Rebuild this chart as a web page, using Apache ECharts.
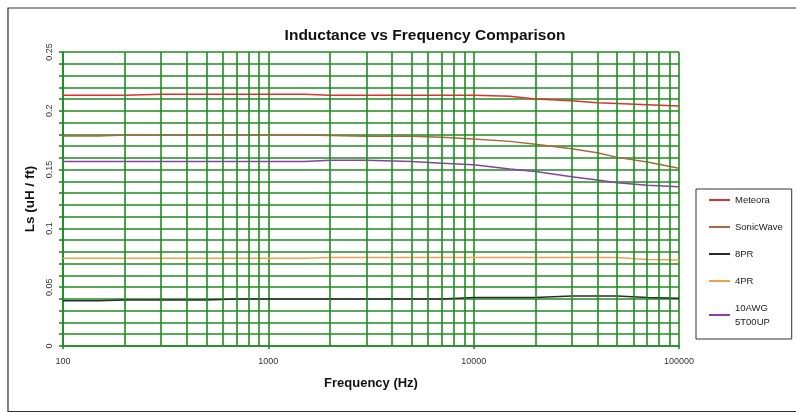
<!DOCTYPE html>
<html>
<head>
<meta charset="utf-8">
<title>Inductance vs Frequency Comparison</title>
<script src="https://cdn.jsdelivr.net/npm/echarts@6/dist/echarts.min.js"></script>
<style>
  html, body { margin: 0; padding: 0; background: #fff; }
  #chart { width: 796px; height: 413px; }
</style>
</head>
<body>
<div id="chart"></div>
<script>
// frequency points (Hz)
const freqs = [100, 150, 200, 300, 500, 700, 1000, 1500, 2000, 3000, 5000, 7000, 10000, 15000, 20000, 30000, 40000, 50000, 70000, 100000]

// Ls (uH / ft)
const meteora = [0.2132, 0.2132, 0.2132, 0.2140, 0.2140, 0.2140, 0.2140, 0.2140, 0.2133, 0.2133, 0.2133, 0.2133, 0.2133, 0.2123, 0.2100, 0.2086, 0.2069, 0.2062, 0.2051, 0.2040]
const sonicWave = [0.1786, 0.1786, 0.1794, 0.1794, 0.1794, 0.1794, 0.1794, 0.1794, 0.1790, 0.1784, 0.1783, 0.1776, 0.1761, 0.1740, 0.1715, 0.1677, 0.1643, 0.1604, 0.1565, 0.1511]
const pr8 = [0.0385, 0.0385, 0.0392, 0.0392, 0.0392, 0.0400, 0.0400, 0.0400, 0.0400, 0.0400, 0.0400, 0.0400, 0.0412, 0.0412, 0.0412, 0.0425, 0.0425, 0.0425, 0.0413, 0.0405]
const pr4 = [0.0746, 0.0746, 0.0746, 0.0746, 0.0746, 0.0746, 0.0746, 0.0746, 0.0752, 0.0752, 0.0752, 0.0752, 0.0752, 0.0752, 0.0752, 0.0752, 0.0752, 0.0752, 0.0735, 0.0732]
const awg10 = [0.1568, 0.1568, 0.1568, 0.1568, 0.1568, 0.1568, 0.1568, 0.1568, 0.1579, 0.1579, 0.1568, 0.1555, 0.1542, 0.1505, 0.1484, 0.1440, 0.1412, 0.1389, 0.1367, 0.1355]

const seriesNames = ['Meteora', 'SonicWave', '8PR', '4PR', '10AWG 5T00UP']
const seriesValues = [meteora, sonicWave, pr8, pr4, awg10]
const Colors = ['#e2302c', '#a8683e', '#2a2a2a', '#f2a04e', '#8a3fa6']

// minor log gridlines
const minorFreqs = [200, 300, 400, 500, 600, 700, 800, 900, 2000, 3000, 4000, 5000, 6000, 7000, 8000, 9000, 20000, 30000, 40000, 50000, 60000, 70000, 80000, 90000]

const GRID_GREEN = '#1f8c1f'
const GRID_WIDTH = 1.6
const FONT = "'Liberation Sans', Arial, sans-serif"

const chart = echarts.init(document.getElementById('chart'))

const series = seriesNames.map((name, i) => ({
  name: name,
  type: 'line',
  z: 3,
  showSymbol: false,
  symbol: 'none',
  animation: false,
  itemStyle: { color: Colors[i] },
  lineStyle: { color: Colors[i], width: 1.5 },
  data: freqs.map((f, j) => [f, seriesValues[i][j]])
}))

series.unshift({
  name: 'minorGrid',
  type: 'line',
  z: 1,
  silent: true,
  animation: false,
  itemStyle: { color: GRID_GREEN },
  lineStyle: { color: GRID_GREEN },
  data: [],
  markLine: {
    silent: true,
    animation: false,
    symbol: ['none', 'none'],
    label: { show: false },
    itemStyle: { color: GRID_GREEN },
    lineStyle: { color: GRID_GREEN, width: GRID_WIDTH, type: 'solid', opacity: 1 },
    emphasis: { disabled: true },
    data: minorFreqs.map(f => ({ xAxis: f }))
  }
})

chart.setOption({
  animation: false,
  textStyle: { fontFamily: FONT },
  title: {
    text: 'Inductance vs Frequency Comparison',
    left: 420,
    top: 23,
    textAlign: 'center',
    textStyle: {
      fontFamily: FONT,
      fontSize: 15.5,
      fontWeight: 'bold',
      color: '#111'
    }
  },
  legend: {
    data: seriesNames,
    orient: 'vertical',
    left: 696,
    top: 189,
    padding: [4, 9, 10, 13],
    itemGap: 13,
    itemWidth: 21,
    itemHeight: 2,
    icon: 'rect',
    borderColor: '#333',
    borderWidth: 1,
    formatter: name => name.replace(' ', '\n'),
    textStyle: {
      fontFamily: FONT,
      fontSize: 9.5,
      color: '#222',
      lineHeight: 14
    }
  },
  graphic: [{
    type: 'rect',
    silent: true,
    z: -1,
    shape: { x: 8, y: 8, width: 800, height: 403.5 },
    style: { fill: 'none', stroke: '#333', lineWidth: 1.2 }
  }],
  grid: {
    left: 63,
    right: 117,
    top: 52,
    bottom: 67,
    containLabel: false
  },
  xAxis: {
    type: 'log',
    logBase: 10,
    min: 100,
    max: 100000,
    name: 'Frequency (Hz)',
    nameLocation: 'middle',
    nameGap: 31,
    nameTextStyle: {
      fontFamily: FONT,
      fontSize: 13,
      fontWeight: 'bold',
      color: '#111'
    },
    axisLine: { lineStyle: { color: GRID_GREEN, width: GRID_WIDTH } },
    axisTick: { show: true, length: 3, lineStyle: { color: GRID_GREEN, width: GRID_WIDTH } },
    axisLabel: {
      fontFamily: FONT,
      fontSize: 9,
      color: '#333',
      margin: 11,
      formatter: v => String(v)
    },
    splitLine: { show: true, lineStyle: { color: GRID_GREEN, width: GRID_WIDTH } },
    minorTick: { show: false },
    minorSplitLine: { show: false }
  },
  yAxis: {
    type: 'value',
    min: 0,
    max: 0.25,
    interval: 0.01,
    name: 'Ls (uH / ft)',
    nameLocation: 'middle',
    nameGap: 25,
    nameTextStyle: {
      fontFamily: FONT,
      fontSize: 13.5,
      fontWeight: 'bold',
      color: '#111'
    },
    axisLine: { show: true, lineStyle: { color: GRID_GREEN, width: GRID_WIDTH } },
    axisTick: { show: true, length: 4, lineStyle: { color: GRID_GREEN, width: GRID_WIDTH } },
    axisLabel: {
      fontFamily: FONT,
      fontSize: 9,
      color: '#333',
      rotate: 90,
      margin: 9,
      formatter: v => {
        const hundredths = Math.round(v * 100)
        if (hundredths % 5 !== 0) {
          return ''
        }
        return String(hundredths / 100)
      }
    },
    splitLine: { show: true, lineStyle: { color: GRID_GREEN, width: GRID_WIDTH } }
  },
  series: series
})
</script>
</body>
</html>
